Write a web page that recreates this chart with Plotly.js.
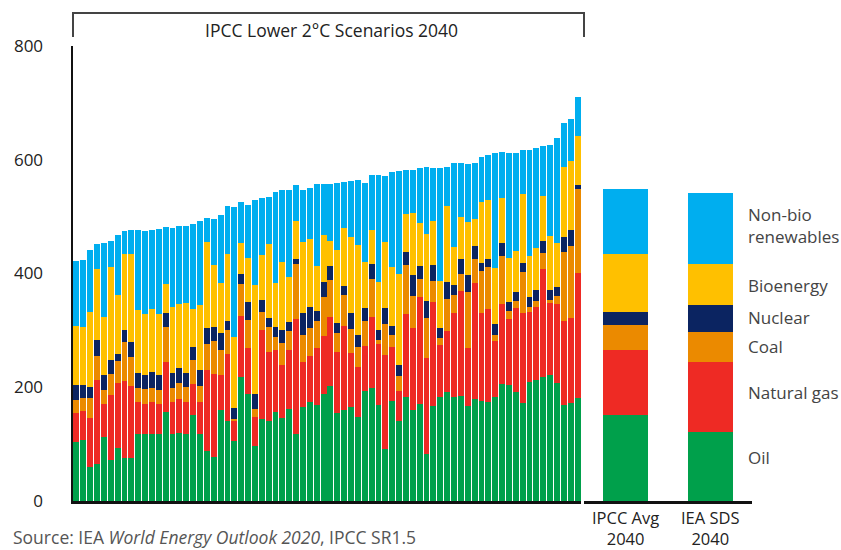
<!DOCTYPE html>
<html>
<head>
<meta charset="utf-8">
<script src="https://cdn.plot.ly/plotly-3.0.1.min.js"></script>
<style>html,body{margin:0;padding:0;background:#fff;}#chart{width:841px;height:550px;}</style>
</head>
<body>
<div id="chart"></div>
<script>
// IPCC Lower 2°C scenarios 2040 (74 scenarios)
const oil = [103,107,60,65,113,72,93,76,76,117,118,117,117,156,117,120,118,152,118,88,77,160,141,105,218,188,97,144,141,156,146,162,118,165,174,169,188,202,155,160,165,148,193,199,169,91,176,141,183,160,171,83,167,183,192,183,185,167,179,176,174,183,206,204,192,172,209,213,218,222,207,169,172,181];
const gas = [52,51,86,148,57,114,114,135,127,57,53,57,54,88,57,59,56,54,56,142,146,62,118,35,107,81,51,156,121,109,93,104,202,79,81,100,102,121,107,148,95,88,79,125,107,165,95,53,146,144,188,169,183,91,107,148,185,102,204,155,163,98,141,116,148,158,123,128,190,127,139,148,149,220];
const coal = [23,23,35,42,26,37,39,69,51,25,26,25,25,62,25,28,26,42,28,46,58,44,42,4,56,49,14,32,44,23,39,33,97,47,49,47,69,65,33,54,42,35,44,67,7,56,21,25,86,56,32,69,37,12,56,32,30,98,42,74,74,11,83,14,12,72,9,11,28,4,14,120,128,148];
const nuclear = [26,23,19,28,25,25,12,21,25,26,25,28,25,25,26,26,25,23,28,28,25,30,16,19,19,32,26,21,16,18,23,16,9,39,37,18,26,25,18,16,28,21,23,25,18,28,16,21,23,37,23,30,28,19,30,16,25,30,23,14,14,19,23,16,16,16,18,19,21,18,16,28,28,7];
const bioenergy = [104,102,132,125,102,163,105,134,155,111,107,111,107,51,116,113,123,67,114,151,109,88,118,125,53,77,192,79,130,77,120,79,67,125,120,79,83,44,128,102,135,158,81,60,84,116,104,160,67,109,74,118,77,81,134,67,74,93,47,107,105,98,79,77,72,121,72,74,79,95,77,123,120,86];
const nonBio = [114,118,109,44,130,46,104,39,43,141,146,139,151,100,139,137,135,149,149,42,81,118,83,229,72,93,149,100,83,160,125,153,62,91,90,144,90,100,118,81,98,114,139,97,188,116,167,181,77,76,97,118,93,200,69,148,95,102,100,79,79,202,81,185,172,79,186,176,88,160,186,76,74,69];

// Summary bars
const summaryCats = ["IPCC Avg<br>2040", "IEA SDS<br>2040"];
const sumOil = [152, 121];
const sumGas = [114, 123];
const sumCoal = [44, 54];
const sumNuclear = [23, 47];
const sumBio = [101, 72];
const sumNonBio = [115, 125];

const seriesNames = ["Oil", "Natural gas", "Coal", "Nuclear", "Bioenergy", "Non-bio<br>renewables"];
const yTicks = [0, 200, 400, 600, 800];
const bracketTitle = "IPCC Lower 2°C Scenarios 2040";
const sourceText = "Source: IEA <i>World Energy Outlook 2020</i>, IPCC SR1.5";

const colors = ["#00A04B", "#EE2A24", "#EB8A00", "#0B2461", "#FFC000", "#00AEEF"];
const scen = oil.map((_, i) => i + 1);
const mainSeries = [oil, gas, coal, nuclear, bioenergy, nonBio];
const sumSeries = [sumOil, sumGas, sumCoal, sumNuclear, sumBio, sumNonBio];

const traces = [];
mainSeries.forEach((s, k) => {
  traces.push({type: "bar", x: scen, y: s, xaxis: "x", yaxis: "y", width: 0.86,
    marker: {color: colors[k], line: {width: 0}}, showlegend: false, hoverinfo: "y", name: seriesNames[k]});
});
sumSeries.forEach((s, k) => {
  traces.push({type: "bar", x: [0, 1], y: s, xaxis: "x2", yaxis: "y", width: 0.535,
    marker: {color: colors[k], line: {width: 0}}, showlegend: false, hoverinfo: "y", name: seriesNames[k]});
});

const L = 73, R = 752, T = 46, B = 501, W = 841, H = 550;
const px = v => (v - L) / (R - L);
const py = v => (B - v) / (B - T);
const FONT = "'Open Sans', 'Noto Sans', sans-serif";

const legendY = [457, 392, 346, 317, 285, 225];
const annotations = seriesNames.map((n, k) => ({
  xref: "paper", yref: "paper", x: px(746), y: py(legendY[k]), xanchor: "left", yanchor: "middle",
  text: n, showarrow: false, align: "left", font: {family: FONT, size: 17, color: "#444"}
}));
summaryCats.forEach((c, i) => annotations.push({
  xref: "x2", yref: "paper", x: i, y: py(504), xanchor: "center", yanchor: "top",
  text: c, showarrow: false, align: "center", font: {family: FONT, size: 16.5, color: "#222"}
}));
annotations.push({xref: "paper", yref: "paper", x: px(331), y: py(30), xanchor: "center", yanchor: "middle",
  text: bracketTitle, showarrow: false, font: {family: FONT, size: 17.5, color: "#222"}});
annotations.push({xref: "paper", yref: "paper", x: px(11), y: py(537), xanchor: "left", yanchor: "middle",
  text: sourceText, showarrow: false, font: {family: FONT, size: 17.5, color: "#555"}});

const lineStyle = {color: "#444", width: 2};
const shapes = [
  {type: "line", xref: "paper", yref: "paper", x0: px(73), x1: px(584), y0: py(13), y1: py(13), line: lineStyle},
  {type: "line", xref: "paper", yref: "paper", x0: px(73), x1: px(73), y0: py(12), y1: py(37), line: lineStyle},
  {type: "line", xref: "paper", yref: "paper", x0: px(584), x1: px(584), y0: py(12), y1: py(37), line: lineStyle}
];

const layout = {
  width: W, height: H,
  margin: {l: L, r: W - R, t: T, b: H - B},
  paper_bgcolor: "#fff", plot_bgcolor: "#fff",
  barmode: "stack",
  font: {family: FONT, size: 17, color: "#222"},
  xaxis: {domain: [0, px(581)], range: [0.5, 74.5], showticklabels: false, showgrid: false, zeroline: false,
    showline: true, linecolor: "#111", linewidth: 3, ticks: "", fixedrange: true},
  xaxis2: {domain: [px(584), 1], range: [-0.494, 1.494], showticklabels: false, showgrid: false, zeroline: false,
    showline: true, linecolor: "#111", linewidth: 3, ticks: "", anchor: "y", fixedrange: true},
  yaxis: {range: [0, 800], tickvals: yTicks, ticktext: yTicks.map(String), showgrid: false, zeroline: false,
    showline: true, linecolor: "#111", linewidth: 2.5, ticks: "", ticklabelstandoff: 24,
    tickfont: {family: FONT, size: 17, color: "#222"}, fixedrange: true},
  annotations: annotations,
  shapes: shapes
};

Plotly.newPlot("chart", traces, layout, {displayModeBar: false, staticPlot: true});
</script>
</body>
</html>
